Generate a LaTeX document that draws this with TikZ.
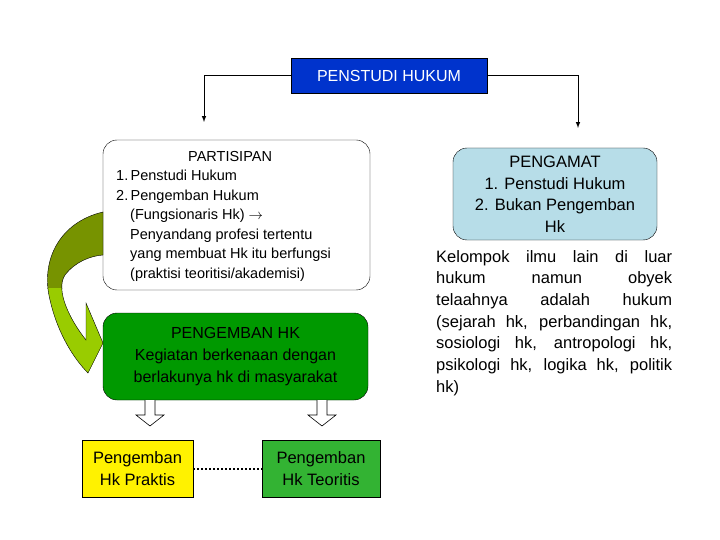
\documentclass[tikz,border=0pt]{standalone}
\usepackage{fontspec}
\setmainfont{Liberation Sans}
\newcommand{\jl}[1]{\makebox[236pt][s]{#1}}
\begin{document}
\begin{tikzpicture}[x=1pt,y=-1pt,
  box/.style={draw=black,rounded corners=14pt,align=center,inner sep=0pt},
  sq/.style={draw=black,align=center,font=\fontsize{16.5}{22}\selectfont,inner sep=0pt},
  con/.style={draw=black,line width=1pt,-latex},
  hollow/.style={draw=black,fill=white,line width=0.6pt}]
\useasboundingbox (0,0) rectangle (720,540);
\definecolor{topblue}{RGB}{0,51,204}
\definecolor{pgreen}{RGB}{0,153,0}
\definecolor{lblue}{RGB}{183,221,232}
\definecolor{olive}{RGB}{119,147,0}
\definecolor{ygreen}{RGB}{153,204,0}
\definecolor{tgreen}{RGB}{51,179,51}
\node[sq,fill=topblue,text=white,minimum width=196pt,minimum height=35pt,font=\fontsize{16}{20}\selectfont] (top) at (389,75.5) {PENSTUDI HUKUM};
\coordinate (la) at (204,122);
\coordinate (ra) at (578,128);
\draw[con] (top.west) -| (la);
\draw[con] (top.east) -| (ra);
\node[box,fill=white,minimum width=267pt,minimum height=150pt] (part) at (236.5,215) {};
\begin{scope}
\clip (0,0) rectangle (110,288);
\fill[olive,draw=black,line width=0.4pt] (103,212) .. controls (60,222) and (40,260) .. (50,300) .. controls (58,335) and (75,360) .. (88,373) -- (103,343) -- (86,303) -- (86,340) .. controls (70,320) and (55,290) .. (65,275) .. controls (75,262) and (90,256) .. (103,255) -- cycle;
\end{scope}
\begin{scope}
\clip (0,288) rectangle (110,420);
\fill[ygreen,draw=black,line width=0.4pt] (103,212) .. controls (60,222) and (40,260) .. (50,300) .. controls (58,335) and (75,360) .. (88,373) -- (103,343) -- (86,303) -- (86,340) .. controls (70,320) and (55,290) .. (65,275) .. controls (75,262) and (90,256) .. (103,255) -- cycle;
\end{scope}
\node[align=left,font=\fontsize{14.5}{19.5}\selectfont,anchor=north west,inner sep=0pt] (ptext) at (116,151) {\hspace*{72pt}PARTISIPAN\\1.\,Penstudi Hukum\\2.\,Pengemban Hukum\\\hspace*{14pt}(Fungsionaris Hk) $\rightarrow$\\\hspace*{14pt}Penyandang profesi tertentu\\\hspace*{14pt}yang membuat Hk itu berfungsi\\\hspace*{14pt}(praktisi teoritisi/akademisi)};
\node[box,fill=pgreen,minimum width=265pt,minimum height=87pt,font=\fontsize{16}{22}\selectfont] (peng) at (235.5,356.5) {PENGEMBAN HK\\Kegiatan berkenaan dengan\\berlakunya hk di masyarakat};
\node[box,fill=lblue,minimum width=204pt,minimum height=92pt,font=\fontsize{16.5}{21.5}\selectfont] (amat) at (555,194) {PENGAMAT\\1. Penstudi Hukum\\2. Bukan Pengemban\\Hk};
\node[anchor=north west,inner sep=0pt,align=left,font=\fontsize{16.5}{21.7}\selectfont] (desc) at (436,250) {\jl{Kelompok ilmu lain di luar}\\\jl{hukum namun obyek}\\\jl{telaahnya adalah hukum}\\\jl{(sejarah hk, perbandingan hk,}\\\jl{sosiologi hk, antropologi hk,}\\\jl{psikologi hk, logika hk, politik}\\hk)};
\node[sq,fill=yellow,minimum width=111pt,minimum height=57pt] (prak) at (137.5,468.5) {Pengemban\\Hk Praktis};
\node[sq,fill=tgreen,minimum width=118pt,minimum height=57pt] (teor) at (321,468.5) {Pengemban\\Hk Teoritis};
\draw[line width=2pt,dotted] (prak.east) -- (teor.west);
\draw[hollow] (145,400) -- (145,415) -- (136,415) -- (150,426) -- (164,415) -- (155,415) -- (155,400);
\draw[hollow] (317,400) -- (317,415) -- (308,415) -- (322,426) -- (336,415) -- (327,415) -- (327,400);
\end{tikzpicture}
\end{document}
